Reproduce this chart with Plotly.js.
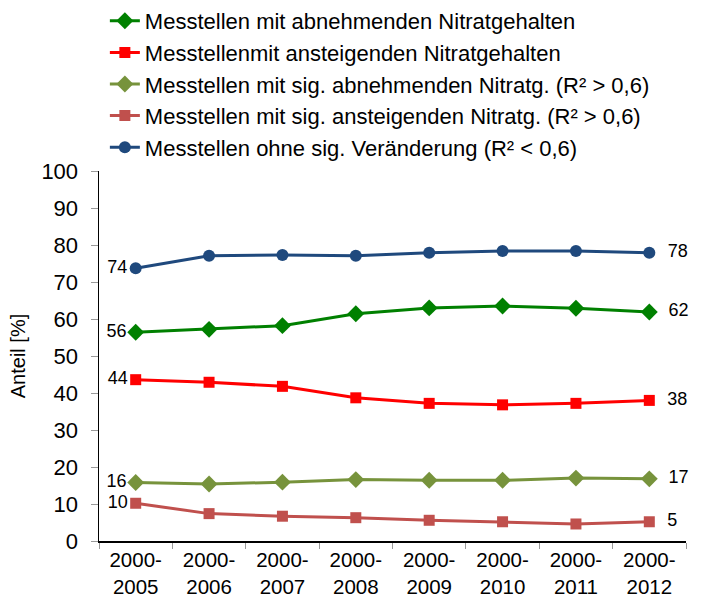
<!DOCTYPE html>
<html><head><meta charset="utf-8">
<script src="https://cdn.plot.ly/plotly-3.0.1.min.js"></script>
<style>body{margin:0;background:#fff}#c{width:701px;height:597px}</style>
</head><body><div id="c"></div>
<script>
const categories = ['2000-<br>2005','2000-<br>2006','2000-<br>2007','2000-<br>2008','2000-<br>2009','2000-<br>2010','2000-<br>2011','2000-<br>2012'];
const abnehmend = [56.4, 57.2, 58.2, 61.4, 63.0, 63.5, 62.9, 61.9];
const ansteigend = [43.6, 42.9, 41.8, 38.7, 37.2, 36.8, 37.2, 38.0];
const sigAbnehmend = [15.8, 15.4, 15.9, 16.6, 16.4, 16.4, 17.0, 16.8];
const sigAnsteigend = [10.2, 7.4, 6.7, 6.3, 5.6, 5.2, 4.6, 5.2];
const ohneVeraenderung = [73.7, 77.1, 77.3, 77.1, 77.9, 78.4, 78.4, 77.9];
const names = ['Messtellen mit abnehmenden Nitratgehalten','Messtellenmit ansteigenden Nitratgehalten','Messtellen mit sig. abnehmenden Nitratg. (R² > 0,6)','Messtellen mit sig. ansteigenden Nitratg. (R² > 0,6)','Messtellen ohne sig. Veränderung (R² < 0,6)'];

const NB = '\u00a0';
function endLabels(v){ return v.map((d,i)=> i===0 ? String(Math.round(d)) : (i===v.length-1 ? NB+NB+String(Math.round(d)) : '')); }
function endPos(v){ return v.map((d,i)=> i===0 ? 'middle left' : 'middle right'); }

const series = [
  {y: abnehmend, color:'#008000', symbol:'diamond', size:13},
  {y: ansteigend, color:'#FF0000', symbol:'square', size:11},
  {y: sigAbnehmend, color:'#77933C', symbol:'diamond', size:13},
  {y: sigAnsteigend, color:'#C0504D', symbol:'square', size:11},
  {y: ohneVeraenderung, color:'#1F497D', symbol:'circle', size:12}
];
const traces = series.map((s,i)=>({
  type:'scatter', mode:'lines+markers+text', x:categories, y:s.y, name:names[i],
  legendgroup:'g'+i,
  line:{color:s.color, width:3}, marker:{color:s.color, symbol:s.symbol, size:s.size},
  text:endLabels(s.y), textposition:endPos(s.y),
  textfont:{family:'Liberation Sans, Arial, sans-serif', size:18, color:'#000'},
  cliponaxis:false
}));

const layout = {
  width:701, height:597,
  margin:{l:99, r:15, t:171, b:56, autoexpand:false},
  paper_bgcolor:'#fff', plot_bgcolor:'#fff',
  font:{family:'Liberation Sans, Arial, sans-serif', size:20, color:'#000'},
  showlegend:true,
  legend:{x:0.01, xanchor:'left', y:1, yref:'container', yanchor:'top', traceorder:'normal',
          tracegroupgap:0, font:{size:22}, bgcolor:'rgba(0,0,0,0)'},
  xaxis:{type:'category', showline:true, linecolor:'#000', linewidth:1.5, ticks:'outside',
         tickson:'boundaries', ticklen:6, tickcolor:'#999', showgrid:false, zeroline:false,
         range:[-0.5,7.5], tickfont:{size:20.5}},
  yaxis:{range:[0,100], dtick:10, showline:true, linecolor:'#000', linewidth:1.5, ticks:'outside',
         ticklen:7, tickcolor:'#999', showgrid:false, zeroline:false, tickfont:{size:22},
         ticklabelstandoff:8,
         title:{text:'Anteil [%]', font:{size:20}, standoff:10}}
};
Plotly.newPlot('c', traces, layout, {displayModeBar:false, staticPlot:true});
</script></body></html>
